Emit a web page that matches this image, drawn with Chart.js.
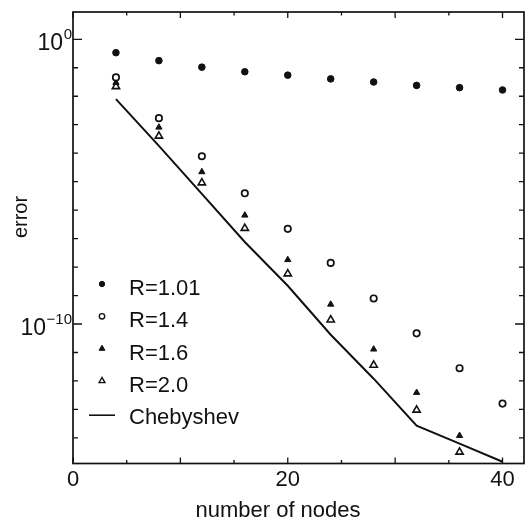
<!DOCTYPE html>
<html lang="en">
<head>
<meta charset="UTF-8">
<title>error vs number of nodes</title>
<script src="https://cdn.jsdelivr.net/npm/chart.js"></script>
<style>
  html, body { margin: 0; padding: 0; background: #fff; }
  .wrap { width: 530px; height: 521px; position: relative; }
</style>
</head>
<body>
<div class="wrap"><canvas id="chart"></canvas></div>
<script>
// values (error on a log scale)
const nodes   = [4, 8, 12, 16, 20, 24, 28, 32, 36, 40];
const errR101 = [0.339, 0.178, 0.105, 0.0724, 0.055, 0.0407, 0.0316, 0.024, 0.020, 0.0166];
const errR14  = [4.6e-2, 1.7e-3, 7.8e-5, 3.9e-6, 2.2e-7, 1.4e-8, 7.9e-10, 4.7e-11, 2.8e-12, 1.6e-13];
const errR16  = [3.0e-2, 8.1e-4, 2.2e-5, 6.6e-7, 1.8e-8, 4.9e-10, 1.3e-11, 3.9e-13, 1.2e-14];
const errR20  = [2.2e-2, 4.0e-4, 9.1e-6, 2.3e-7, 5.8e-9, 1.4e-10, 3.6e-12, 9.5e-14, 3.2e-15];
const errCheb = [7.9e-3, 1.8e-4, 3.7e-6, 7.6e-8, 2.2e-9, 4.2e-11, 1.2e-12, 2.7e-14, 6.3e-15, 1.45e-15];
const xLabelled = [0, 20, 40];
const yLabelled = [0, -10];   // decades that carry a 10^n label

const FONT = "'Liberation Sans', Arial, Helvetica, sans-serif";
const INK = '#111';

function pts(ys) {
  return ys.map((v, i) => ({ x: nodes[i], y: v }));
}

function mark(ctx, style, filled, r, x, y, lw) {
  ctx.beginPath();
  if (style === 'circle') {
    ctx.arc(x, y, r, 0, Math.PI * 2);
  } else {
    ctx.moveTo(x, y - r);
    ctx.lineTo(x - r * 0.866, y + r * 0.5);
    ctx.lineTo(x + r * 0.866, y + r * 0.5);
    ctx.closePath();
  }
  ctx.fillStyle = filled ? INK : '#fff';
  ctx.fill();
  ctx.lineWidth = lw;
  ctx.strokeStyle = INK;
  ctx.stroke();
}

// frame, inward ticks, y labels with exponents, axis titles, legend
const decorations = {
  id: 'decorations',
  afterDraw(chart) {
    const { ctx, chartArea: a, scales: { x, y } } = chart;
    ctx.save();
    ctx.strokeStyle = INK;
    ctx.lineWidth = 1.7;
    ctx.strokeRect(a.left, a.top, a.right - a.left, a.bottom - a.top);

    ctx.lineWidth = 1.3;
    ctx.beginPath();
    x.ticks.forEach(t => {
      const px = x.getPixelForValue(t.value);
      const len = t.value % 10 === 0 ? 6 : 3.5;
      ctx.moveTo(px, a.bottom); ctx.lineTo(px, a.bottom - len);
      ctx.moveTo(px, a.top); ctx.lineTo(px, a.top + len);
    });
    y.ticks.forEach(t => {
      const py = y.getPixelForValue(t.value);
      const e = Math.round(Math.log10(t.value));
      const len = yLabelled.includes(e) ? 9 : 5;
      ctx.moveTo(a.left, py); ctx.lineTo(a.left + len, py);
      ctx.moveTo(a.right, py); ctx.lineTo(a.right - len, py);
    });
    ctx.stroke();

    // 10^n labels
    ctx.fillStyle = INK;
    ctx.textBaseline = 'alphabetic';
    yLabelled.forEach(e => {
      const py = y.getPixelForValue(Math.pow(10, e));
      const sup = String(e).replace('-', '\u2212');
      ctx.font = '15px ' + FONT;
      const sw = ctx.measureText(sup).width;
      ctx.font = '23px ' + FONT;
      const bw = ctx.measureText('10').width;
      const right = a.left - 1;
      ctx.fillText('10', right - sw - bw - 0.5, py + 11);
      ctx.font = '15px ' + FONT;
      ctx.fillText(sup, right - sw, py);
    });

    // y title
    ctx.save();
    ctx.translate(21, 217);
    ctx.rotate(-Math.PI / 2);
    ctx.font = '20px ' + FONT;
    ctx.textAlign = 'center';
    ctx.textBaseline = 'middle';
    ctx.fillText('error', 0, 0);
    ctx.restore();

    // x title
    ctx.font = '22px ' + FONT;
    ctx.textAlign = 'center';
    ctx.textBaseline = 'alphabetic';
    ctx.fillText('number of nodes', 278, 517);

    // legend
    chart.data.datasets.forEach((ds, i) => {
      const ty = 289 + i * 32.3;
      const my = ty - 5;
      if (ds.showLine) {
        ctx.lineWidth = 1.6;
        ctx.strokeStyle = INK;
        ctx.beginPath();
        ctx.moveTo(89, my + 2); ctx.lineTo(115, my + 2);
        ctx.stroke();
      } else {
        const filled = ds.pointBackgroundColor === INK;
        const r = ds.pointStyle === 'circle' ? 2.7 : 3.4;
        mark(ctx, ds.pointStyle, filled, r, 102, my, filled ? 1 : 1.4);
      }
      ctx.fillStyle = INK;
      ctx.font = '22px ' + FONT;
      ctx.textAlign = 'left';
      ctx.textBaseline = 'middle';
      ctx.fillText(ds.label, 129, ty);
    });
    ctx.restore();
  }
};

new Chart(document.getElementById('chart'), {
  type: 'line',
  data: {
    datasets: [
      { label: 'R=1.01', data: pts(errR101), showLine: false, pointStyle: 'circle',
        pointRadius: 3.3, pointBackgroundColor: INK, pointBorderColor: INK, pointBorderWidth: 1 },
      { label: 'R=1.4', data: pts(errR14), showLine: false, pointStyle: 'circle',
        pointRadius: 3.2, pointBackgroundColor: '#fff', pointBorderColor: INK, pointBorderWidth: 1.7 },
      { label: 'R=1.6', data: pts(errR16), showLine: false, pointStyle: 'triangle',
        pointRadius: 3.6, pointBackgroundColor: INK, pointBorderColor: INK, pointBorderWidth: 1 },
      { label: 'R=2.0', data: pts(errR20), showLine: false, pointStyle: 'triangle',
        pointRadius: 4.2, pointBackgroundColor: '#fff', pointBorderColor: INK, pointBorderWidth: 1.6 },
      { label: 'Chebyshev', data: pts(errCheb), showLine: true, borderColor: INK,
        borderWidth: 2, pointRadius: 0, tension: 0, fill: false }
    ]
  },
  options: {
    responsive: true,
    maintainAspectRatio: false,
    animation: false,
    layout: { padding: { top: 12, right: 6, left: 0, bottom: 0 } },
    plugins: { legend: { display: false }, tooltip: { enabled: false } },
    scales: {
      x: {
        type: 'linear',
        min: 0,
        max: 42,
        grid: { display: false, drawTicks: false },
        border: { display: false },
        afterBuildTicks: s => {
          const t = [];
          for (let v = 0; v <= s.max; v += 5) t.push({ value: v });
          s.ticks = t;
        },
        afterFit: s => { s.height = 57.5; },
        ticks: {
          padding: 5.5,
          color: INK,
          maxRotation: 0,
          autoSkip: false,
          font: { family: FONT, size: 22, lineHeight: 1 },
          callback: v => xLabelled.includes(v) ? String(v) : ''
        },
        title: { display: false }
      },
      y: {
        type: 'logarithmic',
        min: 1.26e-15,
        max: 9.1,
        grid: { display: false, drawTicks: false },
        border: { display: false },
        afterBuildTicks: s => {
          const lo = Math.ceil(Math.log10(s.min)), hi = Math.floor(Math.log10(s.max));
          const t = [];
          for (let e = lo; e <= hi; e++) t.push({ value: Math.pow(10, e) });
          s.ticks = t;
        },
        afterFit: s => { s.width = 73; },
        ticks: { display: false }
      }
    }
  },
  plugins: [decorations]
});
</script>
</body>
</html>
